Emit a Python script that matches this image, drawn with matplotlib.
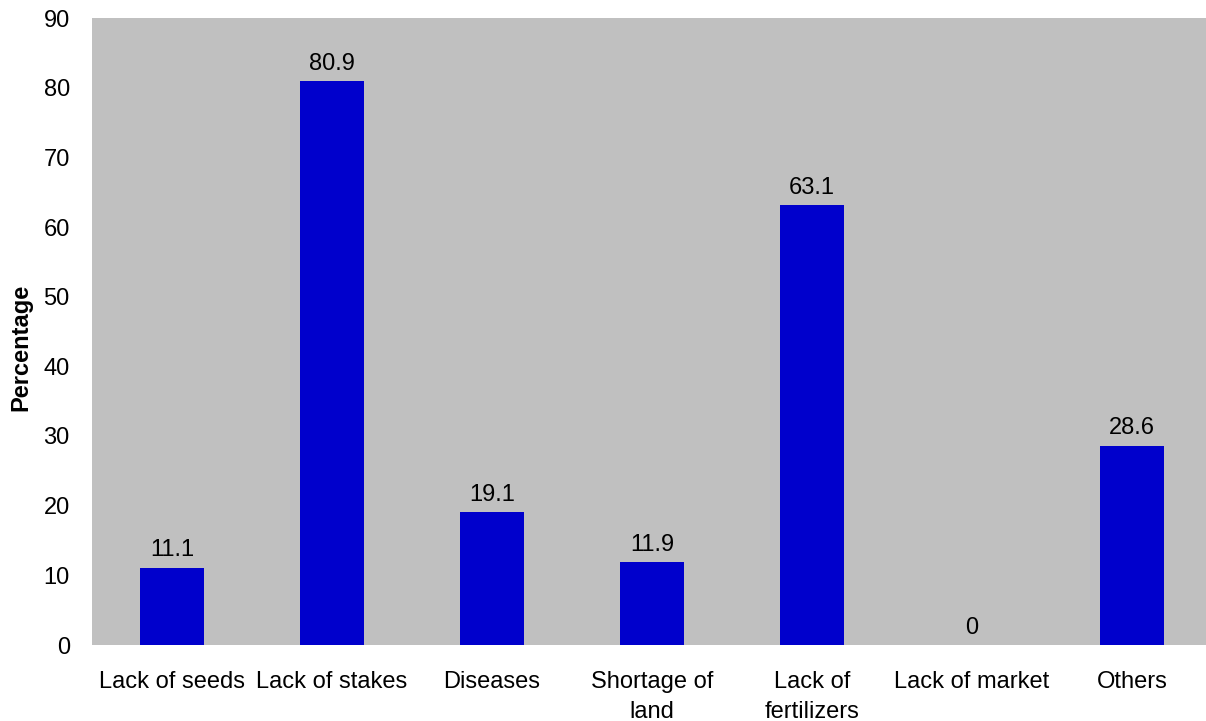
import matplotlib.pyplot as plt
import numpy as np

categories = ['Lack of seeds', 'Lack of stakes', 'Diseases', 'Shortage of\nland',
              'Lack of\nfertilizers', 'Lack of market', 'Others']
values = [11.1, 80.9, 19.1, 11.9, 63.1, 0, 28.6]

plt.rcParams['font.family'] = ['Liberation Sans', 'DejaVu Sans']

fig = plt.figure(figsize=(12.06, 7.21), dpi=100)
ax = fig.add_axes([92 / 1206, 76 / 721, 1120 / 1206, 627 / 721])
ax.set_facecolor('#C0C0C0')

x = np.arange(len(categories))
ax.bar(x, values, width=0.4, color='#0000CC')
for xi, v in zip(x, values):
    ax.text(xi, v + 0.9, f'{v:g}', ha='center', va='bottom', fontsize=17)

ax.set_xlim(-0.5, len(categories) - 0.5)
ax.set_ylim(0, 90)
ax.set_yticks(range(0, 91, 10))
ax.set_xticks(x)
ax.set_xticklabels(categories, fontsize=17, linespacing=1.45)
ax.tick_params(axis='both', length=0, labelsize=17)
ax.tick_params(axis='x', pad=19)
ax.tick_params(axis='y', pad=16)
for s in ax.spines.values():
    s.set_visible(False)
ax.set_ylabel('Percentage', fontsize=17, fontweight='bold')
ax.yaxis.set_label_coords(-0.053, 0.474)

fig.savefig('out.png', dpi=100)
